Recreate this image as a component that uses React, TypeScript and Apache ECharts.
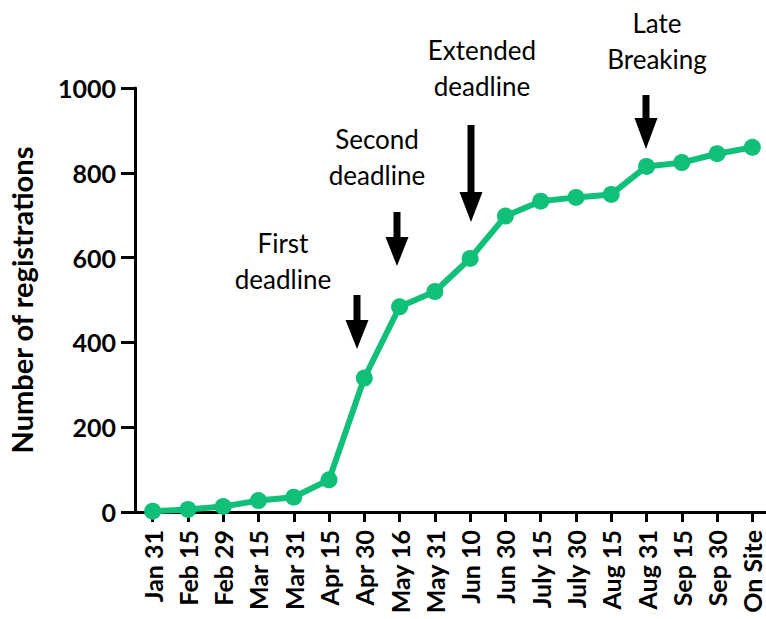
import React, { useEffect, useRef } from "react";
import * as echarts from "echarts";

const categories = [
  "Jan 31", "Feb 15", "Feb 29", "Mar 15", "Mar 31", "Apr 15", "Apr 30", "May 16", "May 31",
  "Jun 10", "Jun 30", "July 15", "July 30", "Aug 15", "Aug 31", "Sep 15", "Sep 30", "On Site",
];
const registrations = [2, 6, 13, 27, 35, 76, 316, 484, 520, 598, 698, 733, 742, 749, 815, 824, 845, 860];
const yTicks = { min: 0, max: 1000, interval: 200 };
const annotations = [
  { text: "First\ndeadline", tx: 283, ty: 261, ax: 357, top: 295, head: 320, tip: 349 },
  { text: "Second\ndeadline", tx: 377, ty: 157, ax: 397, top: 212, head: 237, tip: 266 },
  { text: "Extended\ndeadline", tx: 482, ty: 68, ax: 471, top: 125, head: 192, tip: 222 },
  { text: "Late\nBreaking", tx: 657, ty: 41, ax: 646, top: 95, head: 118, tip: 149 },
];

const GREEN = "#10BF78";
const FONT = "Lato";

export default function App() {
  const ref = useRef<HTMLDivElement>(null);
  useEffect(() => {
    if (!ref.current) return;
    const chart = echarts.init(ref.current, null, { renderer: "svg" });
    const graphics: any[] = [];
    annotations.forEach((a) => {
      graphics.push({
        type: "text",
        x: a.tx,
        y: a.ty,
        style: {
          text: a.text,
          fontFamily: FONT,
          fontSize: 26,
          lineHeight: 36,
          fill: "#000",
          align: "center",
          verticalAlign: "middle",
        },
      });
      const sw = 3.5;
      const hw = 11.5;
      graphics.push({
        type: "polygon",
        shape: {
          points: [
            [a.ax - sw, a.top],
            [a.ax + sw, a.top],
            [a.ax + sw, a.head],
            [a.ax + hw, a.head],
            [a.ax, a.tip],
            [a.ax - hw, a.head],
            [a.ax - sw, a.head],
          ],
        },
        style: { fill: "#000" },
      });
    });
    chart.setOption({
      animation: false,
      backgroundColor: "#fff",
      grid: {
        left: 135,
        right: -4,
        top: 88,
        bottom: 107,
        containLabel: false,
        outerBoundsMode: "none",
      },
      xAxis: {
        type: "category",
        data: categories,
        boundaryGap: true,
        axisLine: { show: true, lineStyle: { color: "#000", width: 3 } },
        axisTick: { show: true, alignWithLabel: true, length: 10, lineStyle: { color: "#000", width: 3 } },
        axisLabel: {
          rotate: 90,
          interval: 0,
          margin: 18,
          color: "#000",
          fontFamily: FONT,
          fontWeight: "bold",
          fontSize: 25,
        },
        splitLine: { show: false },
      },
      yAxis: {
        type: "value",
        min: yTicks.min,
        max: yTicks.max,
        interval: yTicks.interval,
        name: "Number of registrations",
        nameLocation: "middle",
        nameRotate: 90,
        nameGap: 99,
        nameTextStyle: { color: "#000", fontFamily: FONT, fontWeight: "bold", fontSize: 29 },
        axisLine: { show: true, lineStyle: { color: "#000", width: 3 } },
        axisTick: { show: true, length: 14, lineStyle: { color: "#000", width: 3 } },
        axisLabel: {
          margin: 19,
          color: "#000",
          fontFamily: FONT,
          fontWeight: "bold",
          fontSize: 25,
          formatter: (v: number) => String(v),
        },
        splitLine: { show: false },
      },
      series: [
        {
          type: "line",
          data: registrations,
          symbol: "circle",
          symbolSize: 17,
          lineStyle: { color: GREEN, width: 6 },
          itemStyle: { color: GREEN },
          z: 3,
        },
      ],
      graphic: graphics,
    });
    return () => chart.dispose();
  }, []);
  return (
    <div
      ref={ref}
      style={{ position: "fixed", left: 0, top: 0, width: 766, height: 619 }}
    />
  );
}
